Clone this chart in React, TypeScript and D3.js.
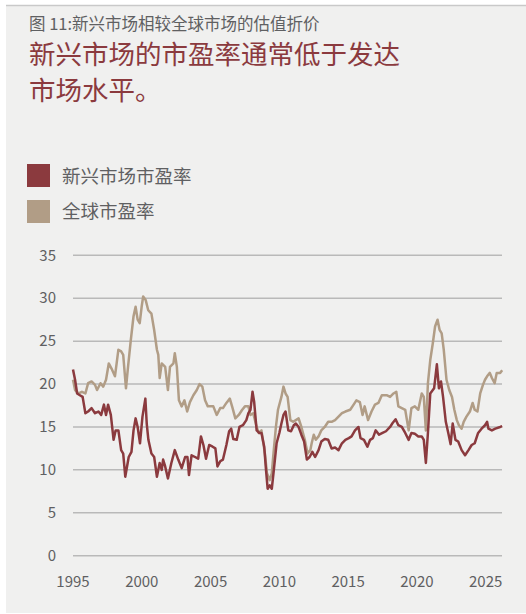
import React from "react";
import * as d3 from "d3";

const yTicks = [0, 5, 10, 15, 20, 25, 30, 35];
const xTicks = [1995, 2000, 2005, 2010, 2015, 2020, 2025];

const seriesNames = ["新兴市场市盈率", "全球市盈率"];

const gmDates = [1995.0, 1995.15, 1995.4, 1995.65, 1995.9, 1996.1, 1996.35, 1996.6, 1996.75, 1997.0, 1997.2, 1997.4, 1997.6, 1997.8, 1998.05, 1998.3, 1998.5, 1998.65, 1998.85, 1999.0, 1999.2, 1999.4, 1999.55, 1999.7, 1999.85, 1999.99, 2000.1, 2000.28, 2000.47, 2000.7, 2000.9, 2001.1, 2001.2, 2001.3, 2001.45, 2001.7, 2001.9, 2002.05, 2002.3, 2002.4, 2002.55, 2002.7, 2002.9, 2003.1, 2003.3, 2003.5, 2003.75, 2004.0, 2004.2, 2004.4, 2004.6, 2004.8, 2005.2, 2005.45, 2005.7, 2005.9, 2006.15, 2006.4, 2006.6, 2006.8, 2007.05, 2007.3, 2007.5, 2007.75, 2007.9, 2008.1, 2008.35, 2008.5, 2008.7, 2008.8, 2008.95, 2009.1, 2009.3, 2009.45, 2009.55, 2009.75, 2009.9, 2010.15, 2010.3, 2010.45, 2010.6, 2010.8, 2011.0, 2011.2, 2011.4, 2011.6, 2011.85, 2012.05, 2012.25, 2012.35, 2012.5, 2012.65, 2012.85, 2013.05, 2013.3, 2013.55, 2013.8, 2014.05, 2014.3, 2014.55, 2014.8, 2015.15, 2015.4, 2015.6, 2015.85, 2016.05, 2016.2, 2016.45, 2016.7, 2016.95, 2017.2, 2017.45, 2017.8, 2018.05, 2018.3, 2018.5, 2018.65, 2018.9, 2019.15, 2019.4, 2019.6, 2019.85, 2020.1, 2020.35, 2020.5, 2020.65, 2020.8, 2020.97, 2021.15, 2021.32, 2021.5, 2021.65, 2021.8, 2021.95, 2022.15, 2022.35, 2022.55, 2022.72, 2022.9, 2023.05, 2023.25, 2023.4, 2023.6, 2023.85, 2024.05, 2024.2, 2024.4, 2024.6, 2024.8, 2024.95, 2025.1, 2025.3, 2025.45, 2025.65, 2025.8, 2026.05, 2026.2];
const gmValues = [20.5, 19.3, 18.9, 19.1, 18.9, 20.1, 20.3, 19.9, 19.3, 20.1, 19.7, 20.5, 22.4, 21.8, 20.9, 24.0, 23.8, 23.4, 19.5, 22.0, 25.1, 27.9, 29.0, 27.5, 27.1, 29.0, 30.2, 29.8, 28.6, 28.2, 26.3, 24.0, 23.4, 20.7, 22.4, 22.0, 19.3, 22.0, 22.4, 23.6, 22.0, 18.1, 17.4, 18.1, 16.8, 17.9, 18.7, 19.3, 20.0, 19.7, 18.1, 17.4, 17.4, 16.4, 17.2, 17.2, 17.8, 18.3, 17.2, 16.0, 16.4, 17.0, 17.4, 17.4, 16.4, 16.6, 15.0, 14.3, 14.6, 13.5, 11.9, 9.6, 8.8, 9.6, 11.5, 15.0, 17.0, 18.5, 19.7, 18.9, 18.5, 15.8, 15.6, 15.8, 16.0, 15.0, 13.5, 11.9, 12.3, 13.1, 14.1, 13.5, 13.9, 14.6, 15.0, 15.6, 15.6, 15.8, 16.2, 16.6, 16.8, 17.0, 17.6, 18.1, 17.9, 16.4, 17.4, 15.8, 16.8, 17.6, 17.8, 18.7, 18.7, 18.5, 18.9, 19.1, 17.4, 17.2, 17.0, 14.6, 17.2, 17.4, 17.0, 18.9, 18.5, 14.6, 20.1, 22.8, 24.7, 26.7, 27.5, 26.3, 25.9, 24.0, 20.5, 19.3, 18.5, 17.0, 15.8, 15.2, 14.8, 15.6, 16.2, 16.8, 17.8, 17.0, 16.8, 18.9, 19.9, 20.5, 20.9, 21.3, 20.7, 20.1, 21.3, 21.3, 21.6];

const emDates = [1995.0, 1995.15, 1995.3, 1995.5, 1995.7, 1995.9, 1996.1, 1996.35, 1996.6, 1996.85, 1997.05, 1997.25, 1997.4, 1997.55, 1997.75, 1997.95, 1998.1, 1998.3, 1998.5, 1998.65, 1998.8, 1999.05, 1999.25, 1999.4, 1999.55, 1999.7, 1999.87, 2000.05, 2000.26, 2000.36, 2000.48, 2000.7, 2000.9, 2001.1, 2001.3, 2001.45, 2001.55, 2001.7, 2001.9, 2002.15, 2002.4, 2002.65, 2002.9, 2003.15, 2003.32, 2003.43, 2003.62, 2003.87, 2004.1, 2004.3, 2004.48, 2004.67, 2004.9, 2005.15, 2005.35, 2005.5, 2005.7, 2005.9, 2006.15, 2006.35, 2006.5, 2006.65, 2006.9, 2007.1, 2007.35, 2007.6, 2007.75, 2007.9, 2008.05, 2008.17, 2008.35, 2008.55, 2008.7, 2008.9, 2009.03, 2009.15, 2009.3, 2009.45, 2009.6, 2009.8, 2010.0, 2010.15, 2010.3, 2010.45, 2010.65, 2010.85, 2011.05, 2011.2, 2011.4, 2011.6, 2011.8, 2012.0, 2012.2, 2012.4, 2012.6, 2012.85, 2013.05, 2013.3, 2013.55, 2013.8, 2014.05, 2014.3, 2014.55, 2014.8, 2015.05, 2015.25, 2015.5, 2015.75, 2015.9, 2016.15, 2016.4, 2016.6, 2016.8, 2017.0, 2017.25, 2017.5, 2017.75, 2018.05, 2018.25, 2018.45, 2018.65, 2018.9, 2019.15, 2019.4, 2019.6, 2019.85, 2020.1, 2020.35, 2020.5, 2020.65, 2020.8, 2020.97, 2021.25, 2021.45, 2021.6, 2021.75, 2021.9, 2022.1, 2022.28, 2022.45, 2022.6, 2022.8, 2023.0, 2023.25, 2023.5, 2023.75, 2023.98, 2024.2, 2024.45, 2024.7, 2024.95, 2025.1, 2025.2, 2025.45, 2025.7, 2026.05, 2026.2];
const emValues = [21.7, 20.5, 18.9, 18.7, 18.5, 16.6, 16.8, 17.2, 16.6, 16.8, 16.4, 17.6, 16.4, 17.6, 16.4, 13.5, 14.6, 14.6, 12.3, 11.9, 9.2, 11.5, 12.1, 14.6, 16.0, 15.0, 13.1, 16.2, 18.3, 15.4, 13.5, 11.9, 11.5, 9.2, 10.8, 10.0, 11.2, 10.4, 9.0, 10.8, 12.3, 11.2, 10.2, 11.5, 11.5, 9.4, 11.7, 11.5, 11.3, 13.9, 12.9, 11.3, 12.9, 12.7, 12.5, 10.4, 11.0, 11.2, 12.9, 14.5, 14.8, 13.6, 13.5, 15.0, 15.2, 15.8, 16.6, 17.0, 19.1, 17.9, 14.6, 14.3, 14.3, 12.7, 10.0, 7.8, 8.2, 7.8, 10.0, 13.1, 14.3, 15.4, 16.4, 16.8, 14.6, 14.5, 15.2, 15.4, 15.0, 14.1, 13.3, 11.2, 11.5, 12.1, 11.5, 12.3, 13.3, 13.6, 13.5, 12.5, 12.6, 12.3, 13.1, 13.5, 13.7, 13.9, 14.6, 15.0, 13.7, 13.5, 12.7, 13.5, 13.7, 14.6, 14.1, 14.3, 14.5, 15.0, 15.5, 15.9, 15.2, 15.0, 14.3, 13.5, 14.3, 14.2, 13.9, 13.9, 13.5, 10.8, 14.3, 18.9, 19.5, 22.3, 19.5, 20.3, 18.5, 15.6, 14.3, 13.0, 15.4, 13.5, 13.3, 12.3, 11.7, 12.3, 12.9, 13.1, 14.3, 14.8, 15.2, 15.6, 14.8, 14.6, 14.8, 15.0, 15.1];

const EM_COLOR = "#8b3a3e";
const GM_COLOR = "#b19d86";
const TEXT_GRAY = "#5f6062";
const FONT = "'Noto Sans CJK SC', 'Noto Sans', sans-serif";

export default function App() {
  const W = 526;
  const H = 614;
  const left = 73;
  const right = 502;
  const top = 255.3;
  const bottom = 555.7;

  const x = d3.scaleLinear().domain([1995, 2025]).range([left, 485.7]);
  const y = d3.scaleLinear().domain([0, 35]).range([bottom, top]);

  const line = d3
    .line<[number, number]>()
    .x((d) => x(d[0]))
    .y((d) => y(d[1]))
    .curve(d3.curveLinear);

  const gm: [number, number][] = gmDates.map((d, i) => [d, gmValues[i]]);
  const em: [number, number][] = emDates.map((d, i) => [d, emValues[i]]);

  return (
    <div style={{ position: "absolute", left: 0, top: 0 }}>
      <svg width={W} height={H} style={{ display: "block" }}>
        <rect x={0} y={0} width={W} height={H} fill="#ffffff" />
        <rect x={6} y={6} width={W - 6} height={H - 7} fill="#f0f0ef" />
        <line x1={6} x2={W} y1={5.5} y2={5.5} stroke="#c9c9c9" strokeWidth={1.5} />

        <text x={29} y={30} fontFamily={FONT} fontSize={16.5} fill={TEXT_GRAY}>
          图 11:新兴市场相较全球市场的估值折价
        </text>
        <text x={29} y={64} fontFamily={FONT} fontSize={26.5} fill={EM_COLOR}>
          新兴市场的市盈率通常低于发达
        </text>
        <text x={29} y={100} fontFamily={FONT} fontSize={26.5} fill={EM_COLOR}>
          市场水平。
        </text>

        <rect x={27} y={164} width={23} height={23} fill={EM_COLOR} />
        <text x={62} y={183} fontFamily={FONT} fontSize={18.5} fill={TEXT_GRAY}>
          {seriesNames[0]}
        </text>
        <rect x={27} y={200} width={23} height={23} fill={GM_COLOR} />
        <text x={62} y={218} fontFamily={FONT} fontSize={18.5} fill={TEXT_GRAY}>
          {seriesNames[1]}
        </text>

        {yTicks.map((t) => (
          <g key={t}>
            <line x1={left} x2={right} y1={y(t)} y2={y(t)} stroke="#b9b9b9" strokeWidth={1.5} />
            <text
              x={56}
              y={y(t)}
              dy="0.35em"
              textAnchor="end"
              fontFamily={FONT}
              fontSize={15}
              fill={TEXT_GRAY}
            >
              {t}
            </text>
          </g>
        ))}
        {xTicks.map((t) => (
          <text
            key={t}
            x={x(t)}
            y={587}
            textAnchor="middle"
            fontFamily={FONT}
            fontSize={15}
            fill={TEXT_GRAY}
          >
            {t}
          </text>
        ))}

        <path d={line(gm) ?? ""} fill="none" stroke={GM_COLOR} strokeWidth={2.5} strokeLinejoin="round" />
        <path d={line(em) ?? ""} fill="none" stroke={EM_COLOR} strokeWidth={2.5} strokeLinejoin="round" />
      </svg>
    </div>
  );
}
